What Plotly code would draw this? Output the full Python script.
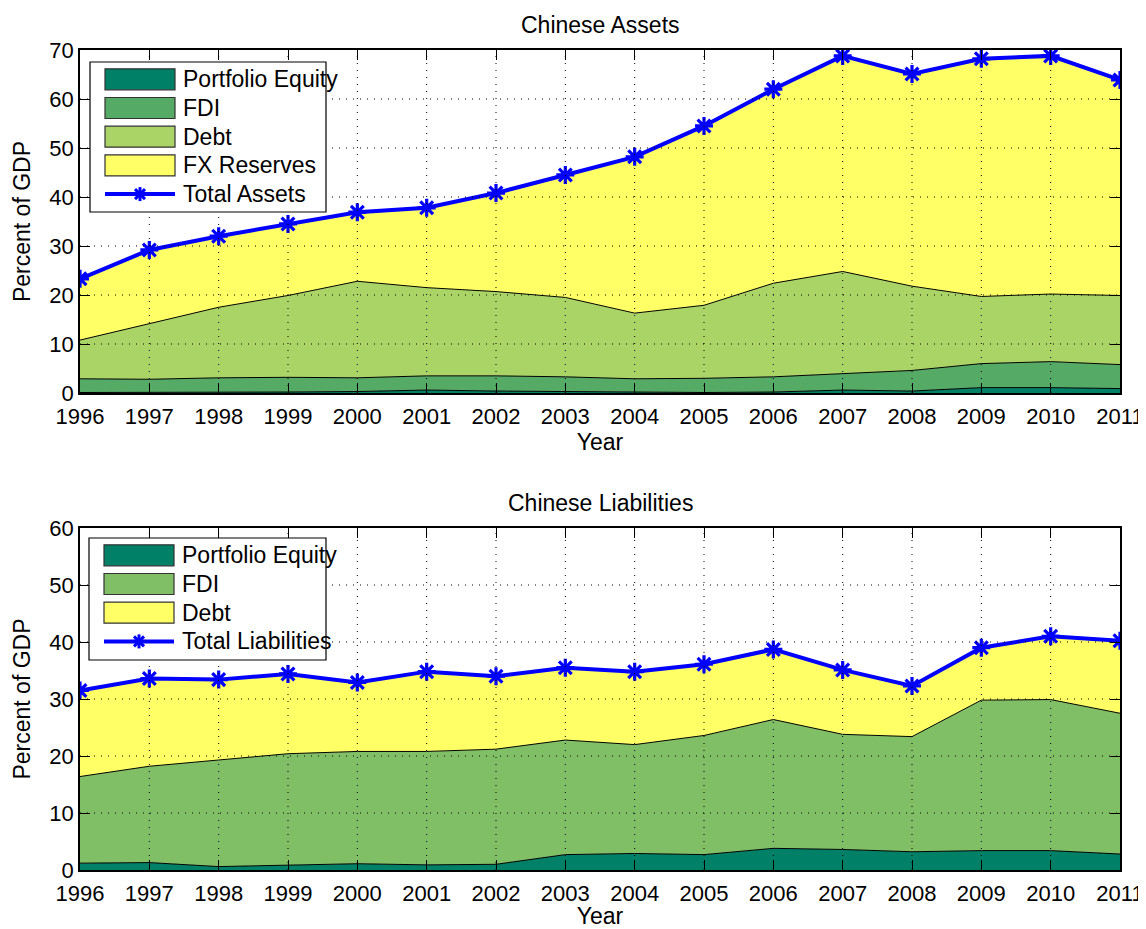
import plotly.graph_objects as go
from plotly.subplots import make_subplots

years = list(range(1996, 2012))

# Chinese assets (percent of GDP), individual layers
assets_pe = [0.1, 0.1, 0.2, 0.2, 0.3, 0.6, 0.4, 0.3, 0.2, 0.1, 0.2, 0.6, 0.4, 1.1, 1.1, 0.9]
assets_fdi = [2.8, 2.7, 2.9, 3.0, 2.8, 2.9, 3.1, 3.0, 2.7, 2.9, 3.1, 3.3, 4.2, 4.9, 5.3, 4.9]
assets_debt = [7.9, 11.3, 14.4, 16.7, 19.7, 18.0, 17.2, 16.2, 13.4, 14.9, 19.1, 20.9, 17.2, 13.7, 13.8, 14.1]
assets_fx = [12.5, 15.1, 14.5, 14.6, 14.1, 16.3, 20.1, 25.0, 31.9, 36.6, 39.6, 44.0, 43.3, 48.5, 48.6, 44.0]
assets_total = [23.3, 29.2, 32.0, 34.5, 36.9, 37.8, 40.8, 44.5, 48.2, 54.5, 62.0, 68.8, 65.1, 68.2, 68.8, 63.9]

# Chinese liabilities (percent of GDP), individual layers
liab_pe = [1.2, 1.3, 0.6, 0.9, 1.1, 0.9, 1.0, 2.7, 2.9, 2.7, 3.8, 3.6, 3.2, 3.4, 3.4, 2.8]
liab_fdi = [15.2, 16.9, 18.7, 19.5, 19.7, 19.9, 20.2, 20.1, 19.1, 20.9, 22.6, 20.2, 20.2, 26.4, 26.5, 24.7]
liab_debt = [15.1, 15.4, 14.1, 14.0, 12.1, 14.0, 12.8, 12.7, 12.8, 12.5, 12.3, 11.3, 8.9, 9.2, 11.1, 12.7]
liab_total = [31.5, 33.6, 33.4, 34.4, 32.9, 34.8, 34.0, 35.5, 34.8, 36.1, 38.7, 35.1, 32.3, 39.0, 41.0, 40.2]

asset_names = ["Portfolio Equity", "FDI", "Debt", "FX Reserves"]
asset_colors = ["rgb(0,128,102)", "rgb(85,170,102)", "rgb(170,213,102)", "rgb(255,255,102)"]
liab_names = ["Portfolio Equity", "FDI", "Debt"]
liab_colors = ["rgb(0,128,102)", "rgb(128,191,102)", "rgb(255,255,102)"]
titles = ["Chinese Assets", "Chinese Liabilities"]
total_names = ["Total Assets", "Total Liabilities"]

FONT = "Liberation Sans, Arial, Helvetica, sans-serif"
FS_TICK = 22
FS_TEXT = 23
BLUE = "#0000ff"

# page geometry: the html body adds an 8px margin around the figure
OFF = 8
VW, VH = 1146, 929
W, H = VW - OFF, VH - OFF
PLOT_L, PLOT_R, PLOT_T, PLOT_B = 80, 1120, 50, 870   # viewport pixels of the plotting area
ML, MT = PLOT_L - OFF, PLOT_T - OFF
MR, MB = W - (PLOT_R - OFF), H - (PLOT_B - OFF)
PW, PH = PLOT_R - PLOT_L, PLOT_B - PLOT_T

def fx(px):
    return (px - PLOT_L) / PW

def fy(py):
    return (PLOT_B - py) / PH

fig = make_subplots(rows=2, cols=1)

marker_style = dict(symbol="asterisk-open", size=15, color=BLUE, line=dict(color=BLUE, width=3.2))

for name, col, vals in zip(asset_names, asset_colors, [assets_pe, assets_fdi, assets_debt, assets_fx]):
    fig.add_trace(go.Scatter(x=years, y=vals, name=name, stackgroup="a", mode="lines",
                             line=dict(color="black", width=1), fillcolor=col,
                             showlegend=False), row=1, col=1)
fig.add_trace(go.Scatter(x=years, y=assets_total, name=total_names[0], mode="lines+markers",
                         line=dict(color=BLUE, width=4), marker=marker_style,
                         showlegend=False), row=1, col=1)

for name, col, vals in zip(liab_names, liab_colors, [liab_pe, liab_fdi, liab_debt]):
    fig.add_trace(go.Scatter(x=years, y=vals, name=name, stackgroup="l", mode="lines",
                             line=dict(color="black", width=1), fillcolor=col,
                             showlegend=False), row=2, col=1)
fig.add_trace(go.Scatter(x=years, y=liab_total, name=total_names[1], mode="lines+markers",
                         line=dict(color=BLUE, width=4), marker=marker_style,
                         showlegend=False), row=2, col=1)

axis_common = dict(showline=True, linecolor="black", linewidth=1.5, mirror="ticks",
                   ticks="inside", ticklen=10, tickcolor="black", tickwidth=1,
                   showgrid=False, zeroline=False, automargin=False,
                   tickfont=dict(family=FONT, size=FS_TICK, color="black"))

ymax = [70, 60]
for r in (1, 2):
    fig.update_xaxes(range=[years[0], years[-1]], dtick=1, tick0=years[0], ticklabelstandoff=3,
                     title=dict(text="Year", font=dict(family=FONT, size=FS_TEXT, color="black"), standoff=5),
                     row=r, col=1, **axis_common)
    fig.update_yaxes(range=[0, ymax[r - 1]], dtick=10,
                     title=dict(text="Percent of GDP", font=dict(family=FONT, size=FS_TEXT, color="black"), standoff=12),
                     row=r, col=1, **axis_common)

fig.update_xaxes(domain=[0.0, 1.0])
fig.update_yaxes(domain=[fy(393), 1.0], row=1, col=1)
fig.update_yaxes(domain=[0.0, fy(528)], row=2, col=1)

# dotted grid drawn above the filled areas (as in the original)
shapes = []
for r, (xref, yref) in enumerate([("x", "y"), ("x2", "y2")]):
    for yr in years[1:-1]:
        shapes.append(dict(type="line", xref=xref, yref=yref, x0=yr, x1=yr, y0=0, y1=ymax[r],
                           line=dict(color="black", width=1, dash="1px,6px"), layer="above"))
    for v in range(10, ymax[r], 10):
        shapes.append(dict(type="line", xref=xref, yref=yref, x0=years[0], x1=years[-1], y0=v, y1=v,
                           line=dict(color="black", width=1, dash="1px,6px"), layer="above"))

annotations = []
# subplot titles
for title, top in zip(titles, [50, 528]):
    annotations.append(dict(xref="paper", yref="paper", x=0.5, y=fy(top), text=title,
                            showarrow=False, xanchor="center", yanchor="bottom", yshift=10,
                            font=dict(family=FONT, size=FS_TEXT, color="black")))

# MATLAB-style legend boxes (layout elements in paper coordinates)
legend_specs = [
    (90, 62, 326, 212, asset_names, asset_colors, total_names[0]),
    (89, 538, 326, 660, liab_names, liab_colors, total_names[1]),
]
ROW = 28.7
for (bx0, by0, bx1, by1, names, colors, tname) in legend_specs:
    shapes.append(dict(type="rect", xref="paper", yref="paper", x0=fx(bx0), x1=fx(bx1),
                       y0=fy(by0), y1=fy(by1), fillcolor="white",
                       line=dict(color="black", width=1.2), layer="above"))
    cy = by0 + 17.3
    for name, col in zip(names, colors):
        shapes.append(dict(type="rect", xref="paper", yref="paper", x0=fx(bx0 + 15), x1=fx(bx0 + 85),
                           y0=fy(cy - 10.5), y1=fy(cy + 10.5), fillcolor=col,
                           line=dict(color="#333333", width=1.2), layer="above"))
        annotations.append(dict(xref="paper", yref="paper", x=fx(bx0 + 91), y=fy(cy), text=name,
                                showarrow=False, xanchor="left", yanchor="middle",
                                font=dict(family=FONT, size=FS_TEXT, color="black")))
        cy += ROW
    # total line sample with asterisk
    shapes.append(dict(type="line", xref="paper", yref="paper", x0=fx(bx0 + 15), x1=fx(bx0 + 85),
                       y0=fy(cy), y1=fy(cy), line=dict(color=BLUE, width=4), layer="above"))
    ax, ay = fx(bx0 + 50), fy(cy)
    for (dx, dy) in [(7, 0), (0, 7), (5, 5), (5, -5)]:
        shapes.append(dict(type="line", xref="paper", yref="paper", xsizemode="pixel", ysizemode="pixel",
                           xanchor=ax, yanchor=ay, x0=-dx, x1=dx, y0=-dy, y1=dy,
                           line=dict(color=BLUE, width=3), layer="above"))
    annotations.append(dict(xref="paper", yref="paper", x=fx(bx0 + 91), y=fy(cy), text=tname,
                            showarrow=False, xanchor="left", yanchor="middle",
                            font=dict(family=FONT, size=FS_TEXT, color="black")))

fig.update_layout(
    width=W, height=H,
    margin=dict(l=ML, r=MR, t=MT, b=MB, autoexpand=False),
    paper_bgcolor="white", plot_bgcolor="white",
    font=dict(family=FONT, size=FS_TICK, color="black"),
    shapes=shapes,
    annotations=annotations,
    showlegend=False,
)

fig.write_html("out.html")
